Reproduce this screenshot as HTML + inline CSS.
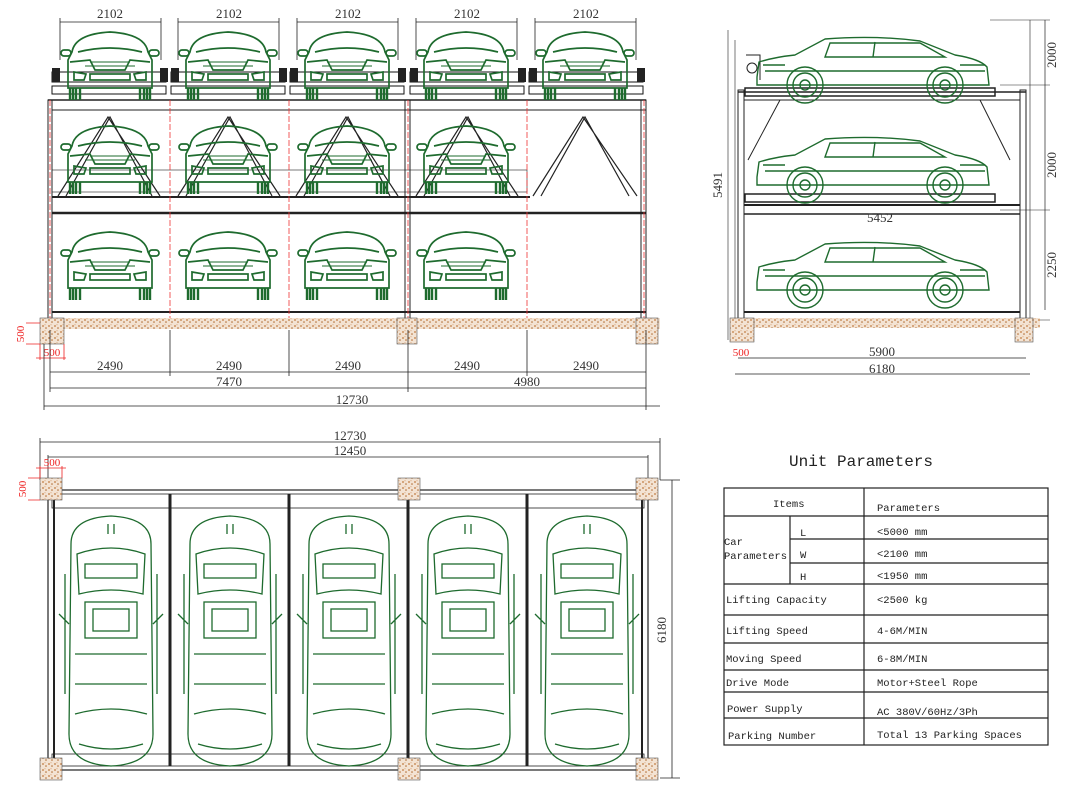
<!DOCTYPE html>
<html><head><meta charset="utf-8"><style>
html,body{margin:0;padding:0;background:#fff}
svg{display:block}
text{font-family:"Liberation Serif",serif}
g.m text, text.m{font-family:"Liberation Mono",monospace}
</style></head><body>
<svg width="1082" height="794" viewBox="0 0 1082 794" xmlns="http://www.w3.org/2000/svg">
<defs>
<pattern id="gr" width="6" height="6" patternUnits="userSpaceOnUse">
<rect width="6" height="6" fill="#f3e3d3"/><circle cx="1" cy="2" r="0.9" fill="#c07a40"/><circle cx="4" cy="4" r="0.8" fill="#b06a30"/><circle cx="3" cy="0.8" r="0.5" fill="#d09060"/>
</pattern>
<g id="cf" fill="none" stroke="#1e6b2e" stroke-width="1.7">
<path d="M12 22 Q15 4 50 2 Q85 4 88 22 L92 30 L92 58 L8 58 L8 30 Z"/>
<path d="M18 22 Q50 14 82 22"/>
<rect x="1" y="20" width="10" height="6" rx="3"/><rect x="89" y="20" width="10" height="6" rx="3"/>
<path d="M10 32 L30 30 L35 40 L65 40 L70 30 L90 32"/>
<path d="M30 32 L70 32 M25 36 L75 36" stroke-width="1"/>
<rect x="30" y="44" width="40" height="6"/>
<path d="M14 42 L26 44 L24 50 L14 50 Z M86 42 L74 44 L76 50 L86 50 Z"/>
<path d="M10 58 L10 70 M13 58 L13 70 M16 58 L16 70 M20 58 L20 70 M80 58 L80 70 M84 58 L84 70 M87 58 L87 70 M90 58 L90 70" stroke-width="2.4"/>
</g>
<g id="cs" fill="none" stroke="#1e6b2e" stroke-width="1.4">
<path d="M2 40 L4 25 Q20 20 40 18 L70 2 Q120 -2 165 4 L200 18 Q225 22 232 30 L234 48 L2 48 Z"/>
<path d="M75 6 L70 20 L190 20 L165 6 Z M120 5 L118 20"/>
<circle cx="50" cy="48" r="18"/><circle cx="50" cy="48" r="12"/><circle cx="50" cy="48" r="5"/>
<circle cx="190" cy="48" r="18"/><circle cx="190" cy="48" r="12"/><circle cx="190" cy="48" r="5"/>
<path d="M10 34 L230 34 M8 28 L30 28 M205 28 L230 28"/>
</g>
<g id="ct" fill="none" stroke="#1e6b2e" stroke-width="1.3">
<path d="M8 30 Q8 4 48 2 Q88 4 88 30 L90 220 Q90 250 48 252 Q6 250 6 220 Z"/>
<path d="M14 40 Q48 28 82 40 L80 80 Q48 72 16 80 Z"/>
<rect x="22" y="50" width="52" height="14"/>
<rect x="22" y="88" width="52" height="36"/>
<rect x="30" y="95" width="36" height="22"/>
<path d="M12 140 L84 140 M12 170 L84 170 M12 200 Q48 190 84 200 M16 230 Q48 240 80 230"/>
<path d="M2 60 L2 180 M94 60 L94 180 M-4 100 L6 110 M100 100 L90 110"/>
<path d="M45 20 L45 10 M51 20 L51 10"/>
</g>
</defs>

<!-- ===== FRONT VIEW ===== -->
<g stroke="#222" fill="none" stroke-width="1">
<g stroke-width="0.8">
<line x1="60" y1="22" x2="161" y2="22"/><line x1="60" y1="18" x2="60" y2="60"/><line x1="161" y1="18" x2="161" y2="60"/>
<line x1="178" y1="22" x2="279" y2="22"/><line x1="178" y1="18" x2="178" y2="60"/><line x1="279" y1="18" x2="279" y2="60"/>
<line x1="297" y1="22" x2="398" y2="22"/><line x1="297" y1="18" x2="297" y2="60"/><line x1="398" y1="18" x2="398" y2="60"/>
<line x1="416" y1="22" x2="517" y2="22"/><line x1="416" y1="18" x2="416" y2="60"/><line x1="517" y1="18" x2="517" y2="60"/>
<line x1="535" y1="22" x2="636" y2="22"/><line x1="535" y1="18" x2="535" y2="60"/><line x1="636" y1="18" x2="636" y2="60"/>
</g>
<rect x="48" y="100" width="4" height="220" fill="#fff"/>
<rect x="405" y="100" width="5" height="220" fill="#fff"/>
<rect x="641" y="100" width="5" height="220" fill="#fff"/>
<line x1="48" y1="100" x2="646" y2="100" stroke-width="1.5"/>
<line x1="52" y1="213" x2="646" y2="213" stroke-width="2.5"/>
<line x1="52" y1="110" x2="646" y2="110"/>
<line x1="52" y1="197" x2="530" y2="197" stroke-width="2"/>
<line x1="52" y1="312" x2="646" y2="312" stroke-width="2"/>
<g stroke="#111" stroke-width="1">
<rect x="52" y="72" width="114" height="10"/><rect x="52" y="86" width="114" height="8"/>
<rect x="171" y="72" width="114" height="10"/><rect x="171" y="86" width="114" height="8"/>
<rect x="290" y="72" width="114" height="10"/><rect x="290" y="86" width="114" height="8"/>
<rect x="410" y="72" width="114" height="10"/><rect x="410" y="86" width="114" height="8"/>
<rect x="529" y="72" width="114" height="10"/><rect x="529" y="86" width="114" height="8"/>
</g>
<g fill="#222" stroke="none">
<rect x="52" y="68" width="8" height="14"/><rect x="160" y="68" width="8" height="14"/>
<rect x="171" y="68" width="8" height="14"/><rect x="279" y="68" width="8" height="14"/>
<rect x="290" y="68" width="8" height="14"/><rect x="398" y="68" width="8" height="14"/>
<rect x="410" y="68" width="8" height="14"/><rect x="518" y="68" width="8" height="14"/>
<rect x="529" y="68" width="8" height="14"/><rect x="637" y="68" width="8" height="14"/>
</g>
<g stroke-width="1.2">
<path d="M58 196 L108 117 L160 196 M66 196 L110 117 L152 196"/>
<path d="M178 196 L228 117 L280 196 M186 196 L230 117 L272 196"/>
<path d="M296 196 L346 117 L398 196 M304 196 L348 117 L390 196"/>
<path d="M416 196 L466 117 L518 196 M424 196 L468 117 L510 196"/>
<path d="M533 196 L583 117 L637 196 M541 196 L585 117 L629 196"/>
</g>
<rect x="52" y="170" width="475" height="22" stroke-width="0.6"/>
</g>
<g stroke="#e33" stroke-width="0.8" stroke-dasharray="6 2">
<line x1="50" y1="100" x2="50" y2="318"/><line x1="170" y1="100" x2="170" y2="318"/><line x1="289" y1="100" x2="289" y2="318"/><line x1="408" y1="100" x2="408" y2="318"/><line x1="527" y1="100" x2="527" y2="318"/><line x1="644" y1="100" x2="644" y2="318"/>
</g>
<use href="#cf" x="60" y="30"/><use href="#cf" x="178" y="30"/><use href="#cf" x="297" y="30"/><use href="#cf" x="416" y="30"/><use href="#cf" x="535" y="30"/>
<use href="#cf" x="60" y="124"/><use href="#cf" x="178" y="124"/><use href="#cf" x="297" y="124"/><use href="#cf" x="416" y="124"/>
<use href="#cf" x="60" y="230"/><use href="#cf" x="178" y="230"/><use href="#cf" x="297" y="230"/><use href="#cf" x="416" y="230"/>
<rect x="40" y="318" width="620" height="11" fill="url(#gr)"/>
<rect x="40" y="318" width="24" height="26" fill="url(#gr)" stroke="#555" stroke-width="0.6"/>
<rect x="397" y="318" width="20" height="26" fill="url(#gr)" stroke="#555" stroke-width="0.6"/>
<rect x="636" y="318" width="22" height="26" fill="url(#gr)" stroke="#555" stroke-width="0.6"/>
<g fill="none" stroke="#e22" stroke-width="0.8"><path d="M26 323 L40 323 M26 344 L40 344 M40 344 L40 360 M64 344 L64 360 M36 358 L66 358"/></g>
<text x="24" y="334" font-size="11" fill="#e22" transform="rotate(-90 24 334)" text-anchor="middle">500</text>
<text x="52" y="356" font-size="11" fill="#e22" text-anchor="middle">500</text>
<g stroke="#222" stroke-width="0.8" fill="none">
<line x1="50" y1="372" x2="646" y2="372"/>
<line x1="50" y1="388" x2="646" y2="388"/>
<line x1="44" y1="406" x2="660" y2="406"/>
<line x1="50" y1="330" x2="50" y2="392"/><line x1="170" y1="330" x2="170" y2="376"/><line x1="289" y1="330" x2="289" y2="376"/><line x1="408" y1="330" x2="408" y2="392"/><line x1="527" y1="330" x2="527" y2="376"/><line x1="646" y1="330" x2="646" y2="410"/><line x1="44" y1="344" x2="44" y2="410"/>
</g>
<g font-size="13" fill="#333" text-anchor="middle">
<text x="110" y="18">2102</text><text x="229" y="18">2102</text><text x="348" y="18">2102</text><text x="467" y="18">2102</text><text x="586" y="18">2102</text>
<text x="110" y="370">2490</text><text x="229" y="370">2490</text><text x="348" y="370">2490</text><text x="467" y="370">2490</text><text x="586" y="370">2490</text>
<text x="229" y="386">7470</text><text x="527" y="386">4980</text><text x="352" y="404">12730</text>
</g>

<!-- ===== SIDE VIEW ===== -->
<g stroke="#222" fill="none" stroke-width="1">
<rect x="738" y="90" width="6" height="230"/><rect x="1020" y="90" width="6" height="230"/>
<line x1="738" y1="92" x2="1026" y2="92" stroke-width="1.5"/>
<line x1="744" y1="100" x2="1020" y2="100"/>
<line x1="744" y1="205" x2="1020" y2="205" stroke-width="2"/>
<line x1="744" y1="214" x2="1020" y2="214" stroke-width="1.5"/>
<line x1="744" y1="312" x2="1020" y2="312" stroke-width="2"/>
<rect x="745" y="88" width="250" height="8" stroke-width="1.5"/>
<rect x="745" y="194" width="250" height="8" stroke-width="1.5"/>
<path d="M748 160 L780 100 M1010 160 L980 100"/>
<path d="M746 55 L760 55 L760 80" /><circle cx="752" cy="68" r="5"/>
<line x1="735" y1="40" x2="735" y2="340" stroke-width="0.6"/>
<line x1="1030" y1="20" x2="1030" y2="330" stroke-width="0.6"/>
<line x1="1045" y1="20" x2="1045" y2="310" stroke-width="0.7"/>
<line x1="990" y1="20" x2="1050" y2="20" stroke-width="0.6"/>
<line x1="1000" y1="85" x2="1050" y2="85" stroke-width="0.6"/>
<line x1="1000" y1="210" x2="1050" y2="210" stroke-width="0.6"/>
<line x1="1000" y1="320" x2="1050" y2="320" stroke-width="0.6"/>
<line x1="728" y1="30" x2="728" y2="340" stroke-width="0.6"/>
<line x1="738" y1="358" x2="1026" y2="358" stroke-width="0.7"/>
<line x1="735" y1="374" x2="1030" y2="374" stroke-width="0.7"/>
</g>
<use href="#cs" x="755" y="37"/>
<use href="#cs" x="755" y="137"/>
<use href="#cs" x="755" y="242"/>
<rect x="730" y="318" width="310" height="10" fill="url(#gr)"/>
<rect x="730" y="318" width="24" height="24" fill="url(#gr)" stroke="#555" stroke-width="0.6"/>
<rect x="1015" y="318" width="18" height="24" fill="url(#gr)" stroke="#555" stroke-width="0.6"/>
<text x="741" y="356" font-size="11" fill="#e22" text-anchor="middle">500</text>
<g font-size="13" fill="#333" text-anchor="middle">
<text x="1056" y="55" transform="rotate(-90 1056 55)">2000</text>
<text x="1056" y="165" transform="rotate(-90 1056 165)">2000</text>
<text x="1056" y="265" transform="rotate(-90 1056 265)">2250</text>
<text x="722" y="185" transform="rotate(-90 722 185)">5491</text>
<text x="880" y="222">5452</text>
<text x="882" y="356">5900</text>
<text x="882" y="373">6180</text>
</g>

<!-- ===== TOP VIEW ===== -->
<g stroke="#222" fill="none" stroke-width="0.8">
<line x1="40" y1="442" x2="660" y2="442"/>
<line x1="48" y1="457" x2="648" y2="457"/>
<line x1="40" y1="438" x2="40" y2="480"/><line x1="660" y1="438" x2="660" y2="480"/>
<line x1="48" y1="455" x2="48" y2="480"/><line x1="648" y1="455" x2="648" y2="480"/>
<line x1="660" y1="480" x2="680" y2="480"/><line x1="660" y1="778" x2="680" y2="778"/><line x1="672" y1="480" x2="672" y2="778"/>
<rect x="48" y="490" width="600" height="280" stroke-width="1.2"/>
<rect x="52" y="494" width="592" height="14"/>
<rect x="52" y="754" width="592" height="12"/>
<line x1="170" y1="494" x2="170" y2="766" stroke-width="3"/>
<line x1="289" y1="494" x2="289" y2="766" stroke-width="3"/>
<line x1="408" y1="494" x2="408" y2="766" stroke-width="3"/>
<line x1="527" y1="494" x2="527" y2="766" stroke-width="3"/>
<line x1="54" y1="494" x2="54" y2="766" stroke-width="2"/>
<line x1="642" y1="494" x2="642" y2="766" stroke-width="2"/>
</g>
<use href="#ct" x="63" y="514"/><use href="#ct" x="182" y="514"/><use href="#ct" x="301" y="514"/><use href="#ct" x="420" y="514"/><use href="#ct" x="539" y="514"/>
<g fill="url(#gr)" stroke="#555" stroke-width="0.6">
<rect x="40" y="478" width="22" height="22"/><rect x="398" y="478" width="22" height="22"/><rect x="636" y="478" width="22" height="22"/>
<rect x="40" y="758" width="22" height="22"/><rect x="398" y="758" width="22" height="22"/><rect x="636" y="758" width="22" height="22"/>
</g>
<g fill="none" stroke="#e22" stroke-width="0.8"><path d="M28 478 L40 478 M28 500 L40 500 M40 466 L40 478 M62 466 L62 478 M36 468 L66 468"/></g>
<text x="52" y="466" font-size="11" fill="#e22" text-anchor="middle">500</text>
<text x="26" y="489" font-size="11" fill="#e22" text-anchor="middle" transform="rotate(-90 26 489)">500</text>
<g font-size="13" fill="#333" text-anchor="middle">
<text x="350" y="440">12730</text><text x="350" y="455">12450</text>
<text x="666" y="630" transform="rotate(-90 666 630)">6180</text>
</g>

<!-- ===== TABLE ===== -->
<text x="861" y="466" font-size="16" fill="#222" class="m" text-anchor="middle">Unit Parameters</text>
<g stroke="#222" fill="none" stroke-width="1.2">
<rect x="724" y="488" width="324" height="257"/>
<line x1="864" y1="488" x2="864" y2="745"/>
<line x1="790" y1="516" x2="790" y2="584"/>
<line x1="724" y1="516" x2="1048" y2="516"/>
<line x1="790" y1="539" x2="1048" y2="539"/>
<line x1="790" y1="563" x2="1048" y2="563"/>
<line x1="724" y1="584" x2="1048" y2="584"/>
<line x1="724" y1="615" x2="1048" y2="615"/>
<line x1="724" y1="643" x2="1048" y2="643"/>
<line x1="724" y1="670" x2="1048" y2="670"/>
<line x1="724" y1="692" x2="1048" y2="692"/>
<line x1="724" y1="718" x2="1048" y2="718"/>
</g>
<g font-size="10.5" fill="#222" class="m">
<text x="773" y="507">Items</text>
<text x="877" y="511">Parameters</text>
<text x="724" y="545">Car</text><text x="724" y="559">Parameters</text>
<text x="800" y="536">L</text><text x="800" y="558">W</text><text x="800" y="580">H</text>
<text x="877" y="535">&lt;5000 mm</text><text x="877" y="557">&lt;2100 mm</text><text x="877" y="579">&lt;1950 mm</text>
<text x="726" y="603">Lifting Capacity</text><text x="877" y="603">&lt;2500 kg</text>
<text x="726" y="634">Lifting Speed</text><text x="877" y="634">4-6M/MIN</text>
<text x="726" y="662">Moving Speed</text><text x="877" y="662">6-8M/MIN</text>
<text x="726" y="686">Drive Mode</text><text x="877" y="686">Motor+Steel Rope</text>
<text x="727" y="712">Power Supply</text><text x="877" y="715">AC 380V/60Hz/3Ph</text>
<text x="728" y="739">Parking Number</text><text x="877" y="738">Total 13 Parking Spaces</text>
</g>
</svg>
</body></html>
